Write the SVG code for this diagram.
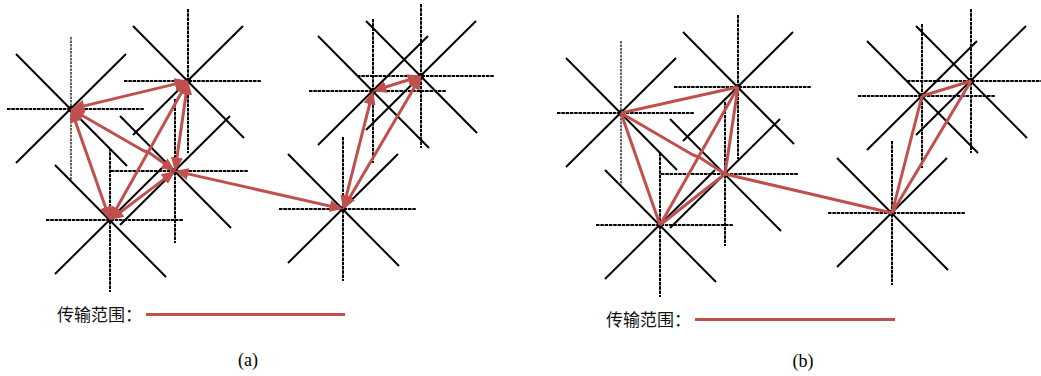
<svg xmlns="http://www.w3.org/2000/svg" xmlns:xlink="http://www.w3.org/1999/xlink" width="1041" height="376" viewBox="0 0 1041 376">
<style>
.hv{stroke:#000;stroke-width:2;stroke-dasharray:3.5 0.8;fill:none}
.vt{stroke:#222;stroke-width:1.4;stroke-dasharray:2.5 1;fill:none}
.dg{stroke:#000;stroke-width:2;fill:none}
.dot{fill:#000}
.e{stroke:#C0504D;stroke-width:3;fill:none;stroke-linejoin:round}
.ea{stroke:#C0504D;stroke-width:3;fill:none;stroke-linejoin:round;marker-start:url(#ah);marker-end:url(#ah)}
.lg{font-family:"Noto Sans CJK SC","Noto Sans",sans-serif;font-size:17px;fill:#111}
.cap{font-family:"Liberation Serif",serif;font-size:18px;fill:#000}
</style>
<defs>
<marker id="ah" markerUnits="userSpaceOnUse" markerWidth="14" markerHeight="12" viewBox="0 0 14 12" refX="9.5" refY="6" orient="auto-start-reverse">
<path d="M0,0 L14,6 L0,12 z" fill="#C0504D"/>
</marker>
<g id="arms">
<line class="hv" x1="-64" y1="0" x2="73" y2="0"/>
<line class="dg" x1="-55" y1="-55" x2="56" y2="57"/>
<line class="dg" x1="55" y1="-55" x2="-55" y2="54"/>
<circle class="dot" r="3"/>
</g>
<g id="star">
<line class="hv" x1="0" y1="-72" x2="0" y2="72"/>
<use xlink:href="#arms"/>
</g>
<g id="starA">
<line class="vt" x1="0" y1="-72" x2="0" y2="72"/>
<use xlink:href="#arms"/>
</g>
</defs>

<!-- panel (a) nodes -->
<g id="a-node-A"><use xlink:href="#starA" x="71" y="109"/></g>
<g id="a-node-B"><use xlink:href="#star" x="188" y="81"/></g>
<g id="a-node-C"><use xlink:href="#star" x="175" y="171"/></g>
<g id="a-node-D"><use xlink:href="#star" x="110" y="220"/></g>
<g id="a-node-E"><use xlink:href="#star" x="343" y="209"/></g>
<g id="a-node-F"><use xlink:href="#star" x="373" y="91"/></g>
<g id="a-node-G"><use xlink:href="#star" x="421" y="76"/></g>

<!-- panel (b) nodes -->
<g id="b-node-A"><use xlink:href="#starA" x="621" y="113"/></g>
<g id="b-node-B"><use xlink:href="#star" x="738" y="87"/></g>
<g id="b-node-C"><use xlink:href="#star" x="725" y="174"/></g>
<g id="b-node-D"><use xlink:href="#star" x="660" y="225"/></g>
<g id="b-node-E"><use xlink:href="#star" x="892" y="213"/></g>
<g id="b-node-F"><use xlink:href="#star" x="922" y="96"/></g>
<g id="b-node-G"><use xlink:href="#star" x="971" y="81"/></g>

<!-- connectors -->
<g id="connectors-a">
<path class="ea" d="M74.9,108.1 L184.1,81.9"/>
<path class="ea" d="M72.3,112.8 L108.7,216.2"/>
<path class="ea" d="M74.5,111 L143,150.5 L149,152.5 L171.7,168.8"/>
<path class="ea" d="M187.4,85 L175.6,167"/>
<path class="ea" d="M112,216.5 L186,84.5"/>
<path class="ea" d="M113.2,217.6 L171.8,173.4"/>
<path class="ea" d="M178.9,171.9 L339.1,208.1"/>
<path class="ea" d="M344,205.1 L372,94.9"/>
<path class="ea" d="M345,205.5 L419,79.5"/>
<path class="ea" d="M376.8,89.8 L417.2,77.2"/>
</g>
<g id="connectors-b">
<path class="e" d="M621,113 L738,87"/>
<path class="e" d="M621,113 L660,225"/>
<path class="e" d="M621,113 L693,155 L699,157 L725,174"/>
<path class="e" d="M738,87 L725,174"/>
<path class="e" d="M660,225 L738,87"/>
<path class="e" d="M660,225 L725,174"/>
<path class="e" d="M725,174 L892,213"/>
<path class="e" d="M892,213 L922,96"/>
<path class="e" d="M892,213 L971,81"/>
<path class="e" d="M922,96 L971,81"/>
</g>

<!-- legends -->
<g id="legend-a">
<text class="lg" x="57" y="321">传输范围：</text>
<line x1="146" y1="314.5" x2="345" y2="314.5" stroke="#C0504D" stroke-width="3"/>
<text class="cap" x="248" y="366" text-anchor="middle">(a)</text>
</g>
<g id="legend-b">
<text class="lg" x="606" y="326">传输范围：</text>
<line x1="695" y1="319.5" x2="895" y2="319.5" stroke="#C0504D" stroke-width="3"/>
<text class="cap" x="803" y="367" text-anchor="middle">(b)</text>
</g>
</svg>
